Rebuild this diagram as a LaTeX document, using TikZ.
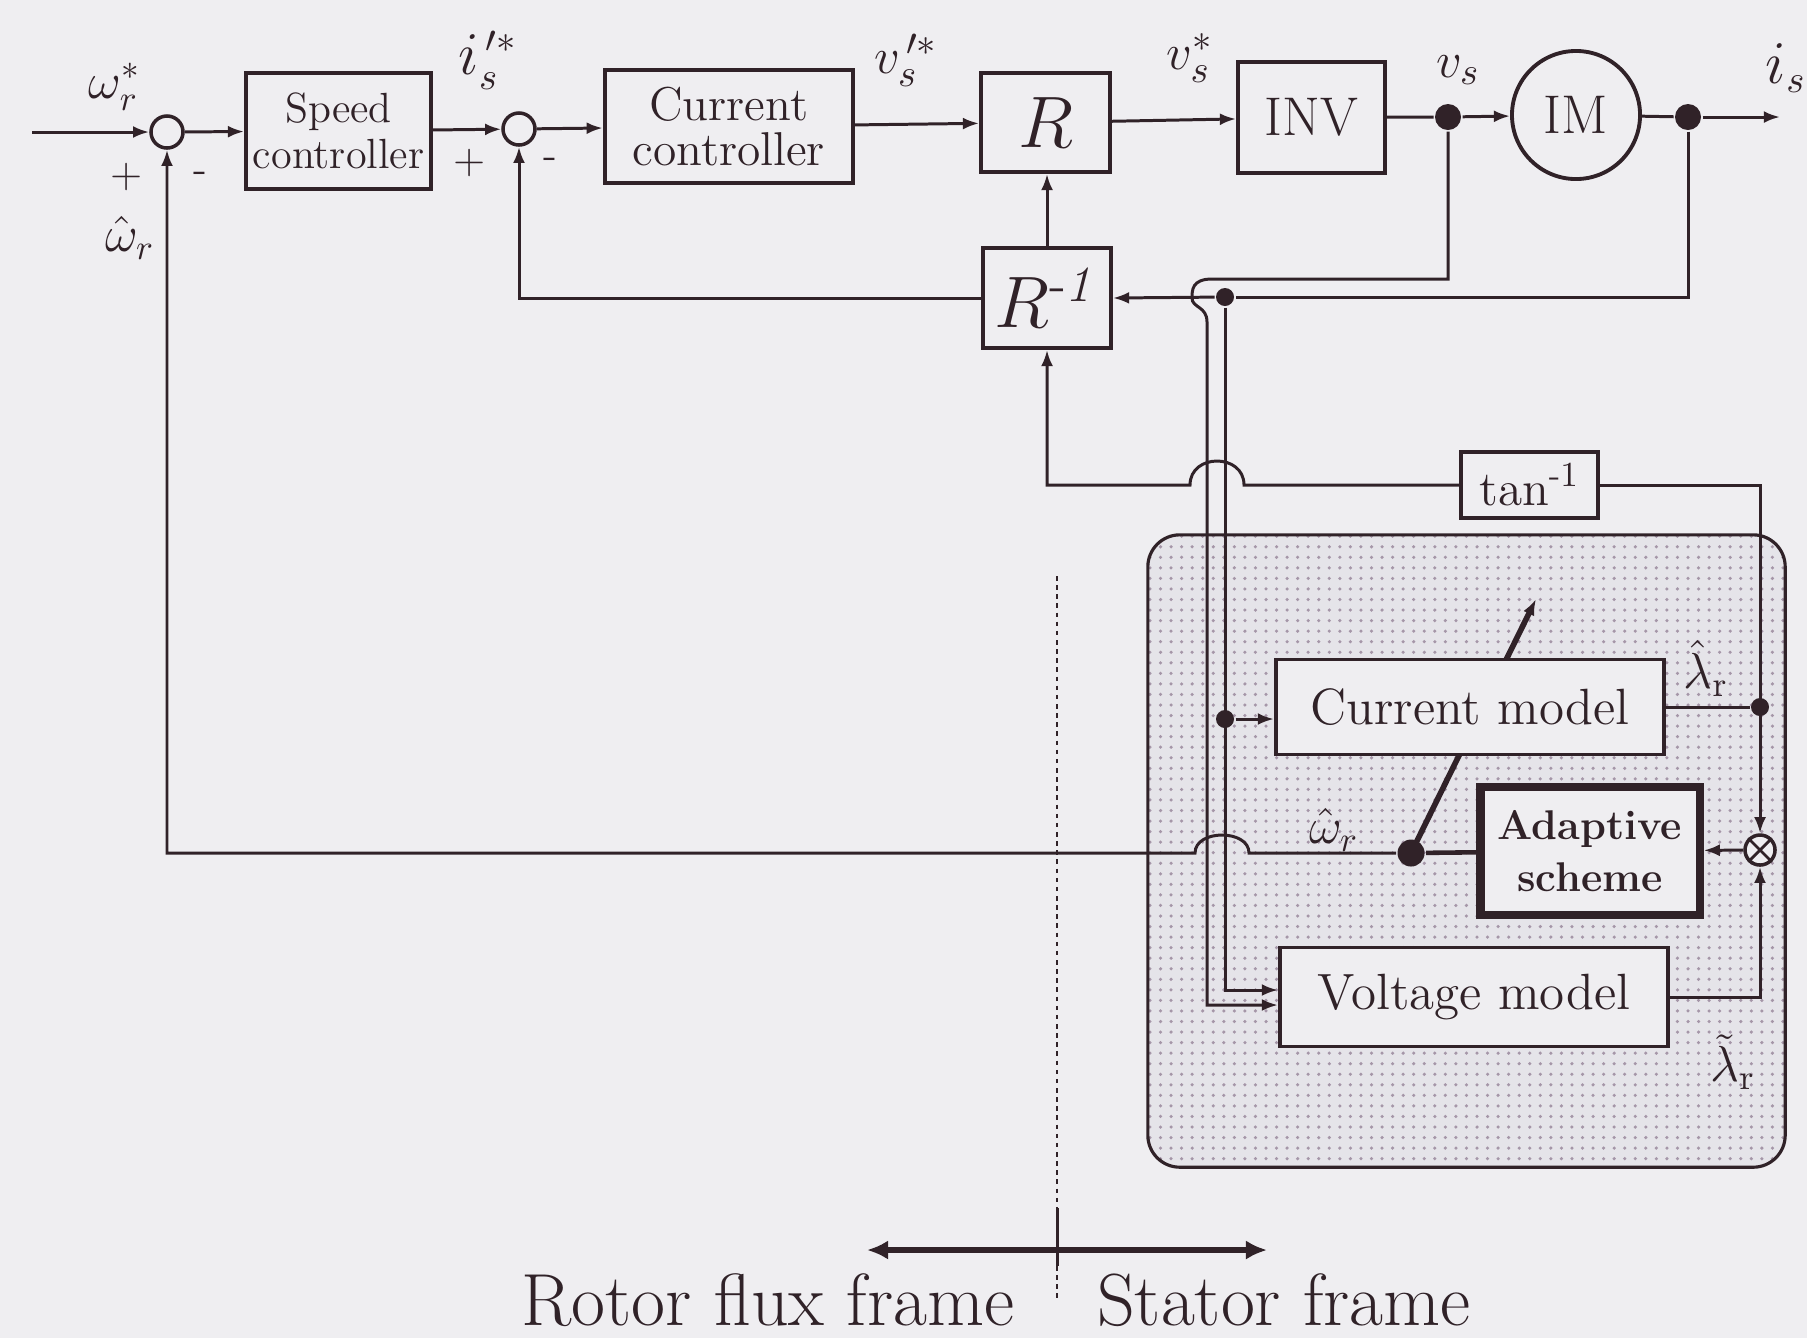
\documentclass[tikz,border=0pt]{standalone}
\usepackage{amsmath, amssymb}
\usepackage{xcolor}
\usepackage{tikz}
\usetikzlibrary{positioning, arrows.meta, patterns, calc}

\definecolor{paper}{RGB}{239,238,241}
\definecolor{ink}{RGB}{48,34,40}
\definecolor{shade}{RGB}{229,228,233}
\definecolor{speck}{RGB}{165,150,168}

\newcommand{\fsize}[1]{\fontsize{#1}{#1}\selectfont}

\begin{document}
\begin{tikzpicture}[x=0.01cm, y=-0.01cm, color=ink, line width=0.85pt,
		>={Latex[length=4.6pt,width=3.4pt]},
		block/.style={draw, fill=paper, line width=1.1pt, inner sep=0pt, align=center},
		sumnode/.style={draw, circle, fill=paper, line width=1pt, inner sep=0pt, minimum size=0.32cm},
		junc/.style={circle, fill=ink, inner sep=0pt, minimum size=0.18cm},
		bigjunc/.style={circle, fill=ink, inner sep=0pt, minimum size=0.27cm},
		lab/.style={inner sep=0pt, font=\fsize{14}}]
		% Page
		\fill[paper] (0,0) rectangle (1807,1338);
		\useasboundingbox (0,0) rectangle (1807,1338);
		
		% Observer frame
		\node[draw, line width=0.9pt, rounded corners=0.32cm, minimum width=6.37cm, minimum height=6.32cm,
			preaction={fill=shade}, pattern=dots, pattern color=speck] (obs) at (1466.5,851) {};
		
		% Free ends and bends
		\coordinate (in) at (32,132);
		\coordinate (out) at (1780,117);
		\coordinate (cC) at (1411,853);
		\coordinate (tipD) at (1536,599);
		\coordinate (tnA) at (1244,485);
		\coordinate (tnB) at (1190,485);
		\coordinate (omA) at (1249,853);
		\coordinate (omB) at (1195,853);
		\coordinate (vsA) at (1212,279);
		\coordinate (vsB) at (1207,322);
		\coordinate (fTop) at (1057,576);
		\coordinate (fMid1) at (1057,1208);
		\coordinate (fMid2) at (1057,1266);
		\coordinate (fBot) at (1057,1302);
		\coordinate (arL) at (867,1250);
		\coordinate (arR) at (1267,1250);
		
		% Adjustable model arrow
		\draw[->, line width=1.6pt] (cC) -- (tipD);
		
		% Nodes
		\node[sumnode] (sum1) at (167,132) {};
		\node[block, minimum width=1.85cm, minimum height=1.16cm, font=\fontsize{12}{13}\selectfont] (speed) at (338.5,131) {Speed\\controller};
		\node[sumnode] (sum2) at (519,129) {};
		\node[block, minimum width=2.48cm, minimum height=1.13cm, font=\fontsize{13.5}{13}\selectfont] (curr) at (728.75,126.5) {Current\\controller};
		\node[block, minimum width=1.29cm, minimum height=0.99cm, font=\fsize{21}] (R) at (1045.5,122.5) {$R$};
		\node[block, minimum width=1.28cm, minimum height=1.00cm, font=\fsize{21}] (Rinv) at (1047,298) {$R^{\text{-}\mathit{1}}$};
		\node[block, minimum width=1.47cm, minimum height=1.11cm, font=\fsize{15.5}] (inv) at (1311.5,117.5) {INV};
		\node[junc, minimum size=0.26cm] (dotA) at (1448,117) {};
		\node[draw, circle, fill=paper, line width=1.1pt, inner sep=0pt, minimum size=1.28cm, font=\fsize{15.5}] (im) at (1576,115) {IM};
		\node[junc, minimum size=0.26cm] (dotB) at (1688,117) {};
		\node[block, minimum width=1.37cm, minimum height=0.66cm, font=\fsize{14}] (tan) at (1529.5,485) {tan$^{\text{-}1}$};
		\node[block, minimum width=3.88cm, minimum height=0.95cm, font=\fsize{14.5}] (cm) at (1470,707) {Current model};
		\node[block, line width=2.3pt, minimum width=2.19cm, minimum height=1.28cm, font=\fontsize{11.8}{15}\selectfont\bfseries] (ada) at (1590,851) {Adaptive\\scheme};
		\node[sumnode, minimum size=0.3cm] (mult) at (1760,850) {};
		\node[block, minimum width=3.88cm, minimum height=0.99cm, font=\fsize{14.5}] (vm) at (1474,997) {Voltage model};
		\node[junc] (jI) at (1225,297) {};
		\node[junc] (jC) at (1225,719) {};
		\node[junc] (jM) at (1760,707) {};
		\draw[line width=0.8pt] (mult.north west) -- (mult.south east) (mult.north east) -- (mult.south west);
		
		% Edges
		\draw[->] (in) -- (sum1);
		\draw[->] (sum1) -- (speed);
		\draw[->] (speed) -- (sum2);
		\draw[->] (sum2) -- (curr);
		\draw[->] (curr) -- (R);
		\draw[->] (R) -- (inv);
		\draw (inv) -- (dotA);
		\draw[->] (dotA) -- (im);
		\draw (im) -- (dotB);
		\draw[->] (dotB) -- (out);
		\draw[->] (Rinv.north) -- (Rinv.north |- R.south);
		\draw[->] (Rinv.west) -| (sum2.south);
		
		% Measured current
		\draw (dotB) |- (jI);
		\draw[->] (jI) -- (Rinv.east);
		\draw[->] (jI) |- ($(vm.west)+(0,-7)$);
		\draw[->] (jC) -- (jC -| cm.west);
		
		% Measured voltage, hopping over the current line
		\draw[->] (dotA) |- (vsA) .. controls (1192,279) and (1192,290) .. (1192,298)
			.. controls (1192,308) and (1207,306) .. (vsB) |- ($(vm.west)+(0,8)$);
		
		% Flux angle back to R^-1
		\draw[->] (tan.west) -- (tnA) .. controls (1244,453) and (1190,453) .. (tnB) -| (Rinv.south);
		
		% Flux comparison and speed estimate
		\draw[->] (tan.east) -| (mult.north);
		\draw (cm.east) -- (jM);
		\draw[->] (vm.east) -| (mult.south);
		\draw[->] (mult) -- (ada);
		\node[bigjunc] (dotC) at (cC) {};
		\draw[line width=1.3pt] (ada) -- (dotC);
		\draw[->] (dotC) -- (omA) .. controls (1249,829) and (1195,829) .. (omB) -| (sum1.south);
		
		% Frame divider
		\draw[dash pattern=on 1.3pt off 1.3pt, line width=0.7pt] (fTop) -- (fMid1);
		\draw (fMid1) -- (fMid2);
		\draw[dash pattern=on 1.3pt off 1.3pt, line width=0.7pt] (fMid2) -- (fBot);
		\draw[<->, line width=1.8pt, >={Latex[length=6pt,width=5.5pt]}] (arL) -- (arR);
		
		% Labels
		\node[lab] (wref) at (115,87) {$\omega_r^*$};
		\node[lab, font=\fsize{12}] (p1) at (127,177) {+};
		\node[lab, font=\fsize{12}] (m1) at (200,177) {-};
		\node[lab] (west1) at (130,238) {$\hat{\omega}_r$};
		\node[lab, font=\fsize{16}] (iref) at (488,60) {$i_s^{\,\prime *}$};
		\node[lab, font=\fsize{12}] (p2) at (470,163) {+};
		\node[lab, font=\fsize{12}] (m2) at (550,163) {-};
		\node[lab, font=\fsize{15}] (vref1) at (906,60) {$v_s^{\,\prime *}$};
		\node[lab, font=\fsize{15}] (vref2) at (1190,58) {$v_s^{*}$};
		\node[lab, font=\fsize{15}] (vs) at (1458,70) {$v_s$};
		\node[lab, font=\fsize{16}] (is) at (1786,68) {$i_s$};
		\node[lab] (lhat) at (1706,668) {$\hat{\lambda}_{\mathrm{r}}$};
		\node[lab] (west2) at (1334,830) {$\hat{\omega}_r$};
		\node[lab] (ltil) at (1733,1062) {$\tilde{\lambda}_{\mathrm{r}}$};
		\node[inner sep=0pt, font=\fsize{21}] (rotor) at (768,1300) {Rotor flux frame};
		\node[inner sep=0pt, font=\fsize{21}] (stator) at (1284,1300) {Stator frame};
	\end{tikzpicture}
\end{document}
